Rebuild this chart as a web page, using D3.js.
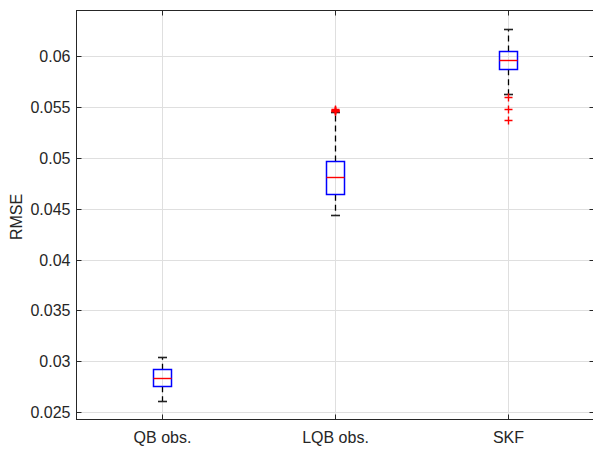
<!DOCTYPE html>
<html>
<head>
<meta charset="utf-8">
<script src="https://cdn.jsdelivr.net/npm/d3@7"></script>
<style>
  body { margin: 0; background: #fff; }
  text { font-family: "Liberation Sans", Arial, sans-serif; fill: #262626; }
</style>
</head>
<body>
<div id="chart"></div>
<script>
// boxplot stats
var categories = ["QB obs.", "LQB obs.", "SKF"];
var whiskerLow = [0.02608, 0.04435, 0.05633];
var q1 = [0.02756, 0.04642, 0.05879];
var median = [0.02828, 0.04813, 0.05967];
var q3 = [0.02919, 0.0497, 0.06053];
var whiskerHigh = [0.03037, 0.0545, 0.06273];
var outliers = [[], [0.0546, 0.05465, 0.0547, 0.05475, 0.05478], [0.05597, 0.05482, 0.05377]];
var yTicks = [0.025, 0.03, 0.035, 0.04, 0.045, 0.05, 0.055, 0.06];
var yTickLabels = ["0.025", "0.03", "0.035", "0.04", "0.045", "0.05", "0.055", "0.06"];

var width = 593,
    height = 449,
    pLeft = 76, pRight = 595, pTop = 10, pBottom = 420,
    axisColor = "#262626",
    gridColor = "#dfdfdf",
    fontSize = "16px"

var svg = d3.select("#chart").append("svg")
    .attr("width", width)
    .attr("height", height)
    .style("display", "block")

svg.append("rect").attr("width", width).attr("height", height).attr("fill", "#fff")

var x = d3.scaleLinear().domain([0.5, 3.5]).range([pLeft, pRight])
var y = d3.scaleLinear().domain([0.02424, 0.06463]).range([pBottom, pTop])

var boxW = 0.104
var px = function(v){ return Math.floor(v) + 0.5 }

// grid
var grid = svg.append("g")
grid.selectAll(".hg").data(yTicks).enter().append("line")
    .attr("x1", pLeft).attr("x2", pRight)
    .attr("y1", function(d){ return px(y(d)) }).attr("y2", function(d){ return px(y(d)) })
    .attr("stroke", gridColor)
grid.selectAll(".vg").data(categories).enter().append("line")
    .attr("x1", function(d, i){ return px(x(i + 1)) }).attr("x2", function(d, i){ return px(x(i + 1)) })
    .attr("y1", pTop).attr("y2", pBottom)
    .attr("stroke", gridColor)

// axes (box on, ticks inward)
var yAxisL = d3.axisLeft(y).tickValues(yTicks).tickSize(-5).tickPadding(6)
    .tickFormat(function(d, i){ return yTickLabels[i] })
var gy = svg.append("g").attr("transform", "translate(" + (pLeft + 0.5) + ",0)").call(yAxisL)
gy.select(".domain").remove()
gy.selectAll(".tick").attr("transform", function(d){ return "translate(0," + px(y(d)) + ")" })
gy.selectAll("line").attr("stroke", axisColor)
gy.selectAll("text").style("font-size", fontSize).attr("fill", axisColor)

var gyR = svg.append("g").attr("transform", "translate(" + (pRight - 0.5) + ",0)")
    .call(d3.axisRight(y).tickValues(yTicks).tickSize(-5).tickFormat(""))
gyR.select(".domain").remove()
gyR.selectAll(".tick").attr("transform", function(d){ return "translate(0," + px(y(d)) + ")" })
gyR.selectAll("line").attr("stroke", axisColor)

var xAxisB = d3.axisBottom(x).tickValues([1, 2, 3]).tickSize(-5).tickPadding(12)
    .tickFormat(function(d){ return categories[d - 1] })
var gx = svg.append("g").attr("transform", "translate(0," + (pBottom - 0.5) + ")").call(xAxisB)
gx.select(".domain").remove()
gx.selectAll(".tick").attr("transform", function(d){ return "translate(" + px(x(d)) + ",0)" })
gx.selectAll("line").attr("stroke", axisColor)
gx.selectAll("text").style("font-size", fontSize).attr("fill", axisColor)

var gxT = svg.append("g").attr("transform", "translate(0," + (pTop + 0.5) + ")")
    .call(d3.axisTop(x).tickValues([1, 2, 3]).tickSize(-5).tickFormat(""))
gxT.select(".domain").remove()
gxT.selectAll(".tick").attr("transform", function(d){ return "translate(" + px(x(d)) + ",0)" })
gxT.selectAll("line").attr("stroke", axisColor)

// remove d3's default font attrs so the css font applies
svg.selectAll("g").attr("font-family", null).attr("font-size", null)

svg.append("rect")
    .attr("x", pLeft + 0.5).attr("y", pTop + 0.5)
    .attr("width", pRight - pLeft - 1).attr("height", pBottom - pTop - 1)
    .attr("fill", "none").attr("stroke", axisColor)

svg.append("text")
    .attr("transform", "translate(22," + ((pTop + pBottom) / 2 + 2) + ")rotate(-90)")
    .attr("text-anchor", "middle")
    .style("font-size", fontSize)
    .text("RMSE")

// boxes
var idx = d3.range(categories.length)
var boxes = svg.append("g")
var g = boxes.selectAll(".box").data(idx).enter().append("g").attr("class", "box")

// whiskers (dashed, from box outward)
g.append("line")
    .attr("x1", function(i){ return px(x(i + 1)) }).attr("x2", function(i){ return px(x(i + 1)) })
    .attr("y1", function(i){ return y(q3[i]) }).attr("y2", function(i){ return y(whiskerHigh[i]) })
    .attr("stroke", "#000").attr("stroke-width", 1.3).attr("stroke-dasharray", "6,4")
g.append("line")
    .attr("x1", function(i){ return px(x(i + 1)) }).attr("x2", function(i){ return px(x(i + 1)) })
    .attr("y1", function(i){ return y(q1[i]) }).attr("y2", function(i){ return y(whiskerLow[i]) })
    .attr("stroke", "#000").attr("stroke-width", 1.3).attr("stroke-dasharray", "6,4")

// caps
;[whiskerHigh, whiskerLow].forEach(function(arr){
    g.append("line")
        .attr("x1", function(i){ return px(x(i + 1)) - 4.5 }).attr("x2", function(i){ return px(x(i + 1)) + 4.5 })
        .attr("y1", function(i){ return px(y(arr[i])) }).attr("y2", function(i){ return px(y(arr[i])) })
        .attr("stroke", "#222").attr("stroke-width", 1.6)
})

g.append("rect")
    .attr("x", function(i){ return px(x(i + 1 - boxW / 2)) })
    .attr("width", function(i){ return Math.round(x(boxW) - x(0)) })
    .attr("y", function(i){ return px(y(q3[i])) })
    .attr("height", function(i){ return Math.round(y(q1[i]) - y(q3[i])) })
    .attr("fill", "none").attr("stroke", "#0000ff").attr("stroke-width", 1.5)

g.append("line")
    .attr("x1", function(i){ return px(x(i + 1 - boxW / 2)) }).attr("x2", function(i){ return px(x(i + 1 - boxW / 2)) + Math.round(x(boxW) - x(0)) })
    .attr("y1", function(i){ return px(y(median[i])) }).attr("y2", function(i){ return px(y(median[i])) })
    .attr("stroke", "#ff0000").attr("stroke-width", 1.4)

// outliers as '+'
var pts = []
outliers.forEach(function(arr, i){ arr.forEach(function(v){ pts.push({i: i, v: v}) }) })
boxes.selectAll(".out").data(pts).enter().append("path")
    .attr("class", "out")
    .attr("d", function(d){
        var cx = px(x(d.i + 1)), cy = px(y(d.v))
        return "M" + (cx - 4) + "," + cy + "H" + (cx + 4) + "M" + cx + "," + (cy - 4) + "V" + (cy + 4)
    })
    .attr("stroke", "#ff0000").attr("stroke-width", 1.4).attr("fill", "none")
</script>
</body>
</html>
